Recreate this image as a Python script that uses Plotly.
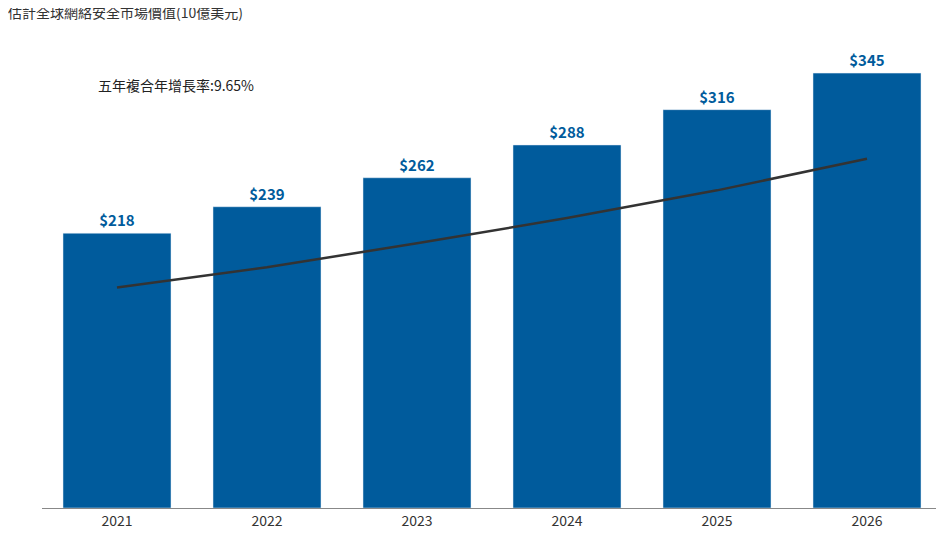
import plotly.graph_objects as go

years = ["2021", "2022", "2023", "2024", "2025", "2026"]
market_value = [218, 239, 262, 288, 316, 345]
trend_line = [175, 191, 210, 230, 252, 277]
value_labels = ["<b>$218</b>", "<b>$239</b>", "<b>$262</b>", "<b>$288</b>", "<b>$316</b>", "<b>$345</b>"]

blue = "#005b9c"
font = "Noto Sans CJK TC"

fig = go.Figure()
fig.add_trace(go.Bar(x=years, y=market_value, marker_color=blue,
                     text=value_labels, textposition="outside",
                     textfont=dict(color=blue, size=15, family=font),
                     cliponaxis=False))
fig.add_trace(go.Scatter(x=years, y=trend_line, mode="lines",
                         line=dict(color="#333333", width=2.5)))

fig.update_layout(
    width=944, height=541, showlegend=False, bargap=0.28,
    margin=dict(l=34, r=10, t=21, b=41),
    paper_bgcolor="white", plot_bgcolor="white",
    font=dict(family=font, color="#333333", size=14),
    xaxis=dict(showline=True, linecolor="#888888", linewidth=1, ticks=""),
    yaxis=dict(range=[0, 380], visible=False),
    annotations=[
        dict(text="估計全球網絡安全市場價值(10億美元)", xref="paper", yref="paper",
             x=-0.04, y=1.035, xanchor="left", yanchor="middle",
             showarrow=False, font=dict(size=14, color="#333333")),
        dict(text="五年複合年增長率:9.65%", xref="paper", yref="paper",
             x=0.06, y=0.883, xanchor="left", yanchor="middle",
             showarrow=False, font=dict(size=14, color="#222222")),
    ],
)

fig.write_html("out.html")
